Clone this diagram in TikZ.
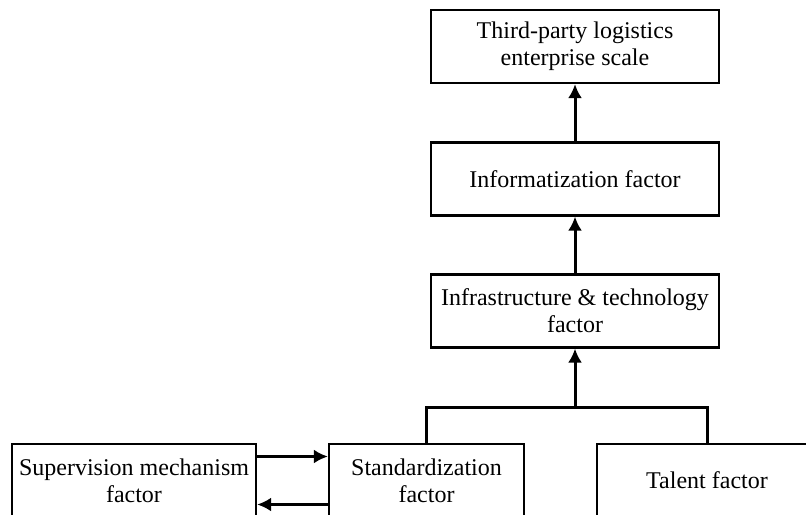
\documentclass[tikz,border=0pt]{standalone}
\usepackage{fontspec}
\setmainfont{Liberation Serif}
\usetikzlibrary{arrows.meta,calc}

\begin{document}
\begin{tikzpicture}[x=.5pt,y=-.5pt,
  factor/.style={draw=black,line width=1.1pt,fill=white,align=center,
    inner sep=1pt,minimum height=36.5pt,
    font=\fontsize{12}{13.5}\selectfont},
  link/.style={line width=1.5pt},
  arr/.style={link,-{Latex[length=7pt,width=7pt]}}]
\useasboundingbox (0,0) rectangle (806,514);
\clip (0,0) rectangle (806,514);

\node[factor,minimum width=144pt] (scale) at (575,46.5) {Third-party logistics\\enterprise scale};
\node[factor,minimum width=144pt] (info) at (575,179) {Informatization factor};
\node[factor,minimum width=144pt] (infra) at (575,311) {Infrastructure \& technology\\factor};

\node[factor,minimum width=122pt] (sup) at (134,480.5) {Supervision mechanism\\factor};
\node[factor,minimum width=97.5pt] (std) at (426.5,480.5) {Standardization\\factor};
\node[factor,minimum width=110pt] (tal) at (707,480.5) {Talent factor};

\coordinate (J) at (575,407);

\draw[arr] (info) -- (scale);
\draw[arr] (infra) -- (info);
\draw[link] (std.north) |- (J) -| (tal.north);
\draw[arr] (J) -- (infra);

\draw[arr] ([yshift=12pt]sup.east) -- ([yshift=12pt]std.west);
\draw[arr] ([yshift=-12pt]std.west) -- ([yshift=-12pt]sup.east);
\end{tikzpicture}
\end{document}
